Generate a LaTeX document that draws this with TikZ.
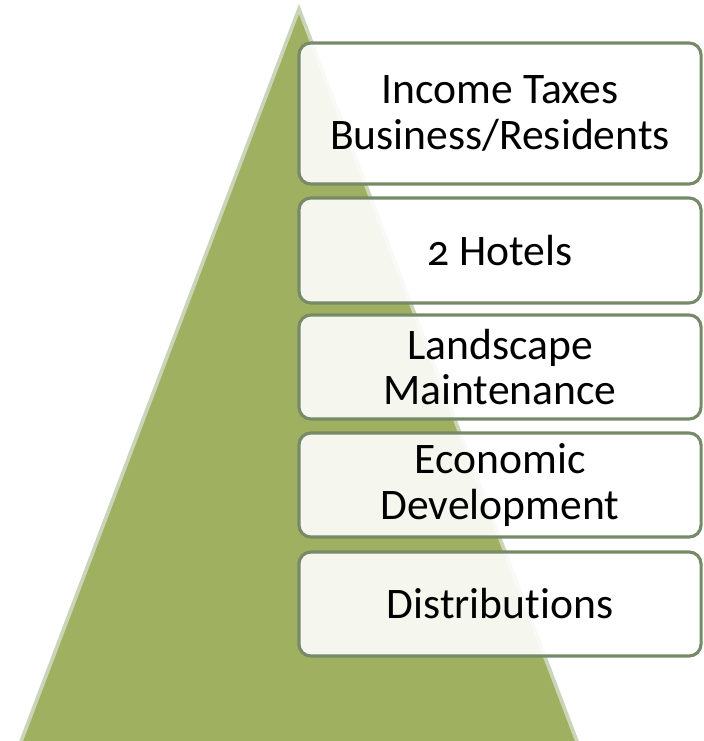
\documentclass[tikz,border=0pt]{standalone}
\usepackage{fontspec}
\setmainfont[Numbers=OldStyle,Ligatures=NoCommon]{Carlito}
\usetikzlibrary{positioning}
\definecolor{leafgreen}{RGB}{159,176,96}
\definecolor{leafedge}{RGB}{201,212,184}
\definecolor{boxedge}{RGB}{118,138,104}

\begin{document}
\begin{tikzpicture}[x=0.025cm,y=-0.025cm]
  \tikzstyle{tier}=[draw=boxedge,line width=2.2pt,fill=white,fill opacity=0.9,text opacity=1,
                    rounded corners=8.5pt,minimum width=10.05cm,inner sep=0pt,align=center,
                    font=\fontsize{31}{32.5}\selectfont,text=black]

  \useasboundingbox (0,0) rectangle (703,741);

  % the green pyramid behind
  \begin{scope}
    \clip (0,0) rectangle (703,741);
    \fill [leafgreen] (299,9) -- (14,760) -- (584,760) -- cycle;
    \draw [leafedge,line width=2.6pt,line join=miter] (14,760) -- (299,9) -- (584,760);
  \end{scope}

  % the boxes on the right
  \node [tier,minimum height=3.525cm] (taxes) at (500,113.5) {Income Taxes\\Business/Residents};
  \node [tier,minimum height=2.625cm] (hotels) at (500,250.5) {2 Hotels};
  \node [tier,minimum height=2.6cm] (landscape) at (500,367) {Landscape\\Maintenance};
  \node [tier,minimum height=2.6cm] (economic) at (500,485) {Economic\\Development};
  \node [tier,minimum height=2.6cm] (distrib) at (500,604) {Distributions};

\end{tikzpicture}
\end{document}
